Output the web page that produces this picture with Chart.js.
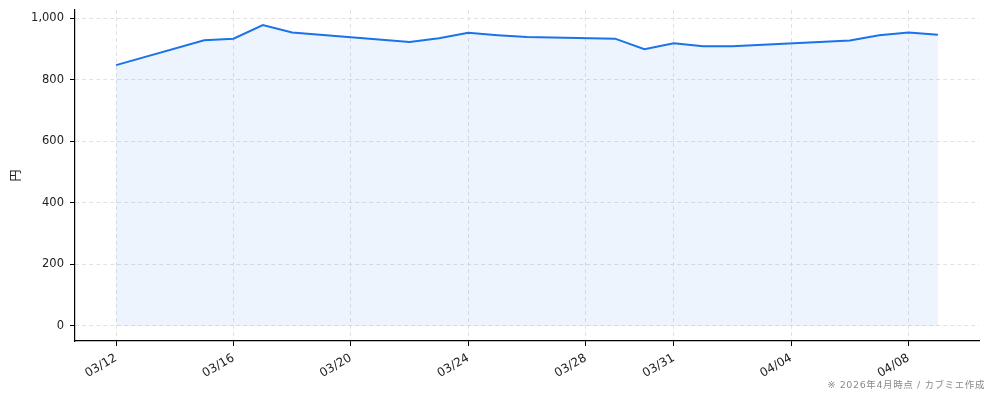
<!DOCTYPE html>
<html lang="ja">
<head>
<meta charset="utf-8">
<script src="https://cdn.jsdelivr.net/npm/chart.js@4"></script>
<style>
  html, body { margin: 0; padding: 0; background: #fff; }
  #wrap { position: relative; width: 994px; height: 401px; }
  #note {
    position: absolute; right: 9px; top: 377px;
    font-family: 'DejaVu Sans', 'Noto Sans CJK JP', sans-serif; font-size: 9.5px;
    color: #8a8a8a; letter-spacing: 0.6px; white-space: nowrap;
  }
</style>
</head>
<body>
<div id="wrap">
  <canvas id="chart"></canvas>
  <div id="note">※ 2026年4月時点 / カブミエ作成</div>
</div>
<script>
// 株価データ（日付 MM/DD と終値）
const dates = ['03/12', '03/15', '03/16', '03/17', '03/18', '03/22', '03/23', '03/24', '03/25', '03/26',
               '03/29', '03/30', '03/31', '04/01', '04/02', '04/06', '04/07', '04/08', '04/09'];
const prices = [847, 928, 933, 977, 953, 922, 934, 952, 944, 938,
                933, 899, 918, 908, 908, 927, 944, 953, 946];

// 目盛り
const xTickLabels = ['03/12', '03/16', '03/20', '03/24', '03/28', '03/31', '04/04', '04/08'];
const yTicks = [0, 200, 400, 600, 800, 1000];

const FONT = "'DejaVu Sans', 'Noto Sans CJK JP', sans-serif";
const LINE_COLOR = '#1a73e8';

// 03/12 を 0 とした日数に変換
function dayIndex(label) {
  const [m, d] = label.split('/').map(Number);
  return m === 3 ? d - 12 : (31 - 12) + d;
}

const points = dates.map((d, i) => ({ x: dayIndex(d), y: prices[i] }));
const xTickValues = xTickLabels.map(dayIndex);
const labelByDay = {};
xTickLabels.forEach(l => { labelByDay[dayIndex(l)] = l; });

const gridStyle = {
  color: '#e2e2e2',
  lineWidth: 1,
  tickColor: '#000',
  tickLength: 5,
  tickWidth: 1,
};

new Chart(document.getElementById('chart').getContext('2d'), {
  type: 'line',
  data: {
    datasets: [{
      data: points,
      borderColor: LINE_COLOR,
      borderWidth: 2,
      backgroundColor: 'rgba(26, 115, 232, 0.08)',
      fill: 'origin',
      pointRadius: 0,
      tension: 0,
    }],
  },
  options: {
    responsive: true,
    maintainAspectRatio: false,
    animation: false,
    layout: { padding: { top: 10, right: 15, left: 0, bottom: 0 } },
    plugins: {
      legend: { display: false },
      tooltip: { enabled: false },
    },
    scales: {
      x: {
        type: 'linear',
        min: -1.4,
        max: 29.4,
        grid: gridStyle,
        border: { color: '#000', width: 1.2, dash: [4, 3] },
        afterBuildTicks: scale => { scale.ticks = xTickValues.map(v => ({ value: v })); },
        afterFit: scale => { scale.height = 60; scale.paddingLeft = 0; scale.paddingRight = 0; },
        ticks: {
          autoSkip: false,
          minRotation: 30,
          maxRotation: 30,
          padding: 5,
          color: '#222',
          font: { family: FONT, size: 12 },
          callback: v => labelByDay[v] || '',
        },
      },
      y: {
        min: -48.9,
        max: 1026,
        grid: gridStyle,
        border: { color: '#000', width: 1.2, dash: [4, 3] },
        afterBuildTicks: scale => { scale.ticks = yTicks.map(v => ({ value: v })); },
        afterFit: scale => { scale.width = 75; scale.paddingTop = 0; scale.paddingBottom = 0; },
        ticks: {
          padding: 6,
          color: '#222',
          font: { family: FONT, size: 11.5 },
          callback: v => v.toLocaleString('en-US'),
        },
        title: {
          display: true,
          text: '円',
          color: '#222',
          padding: { top: 8, bottom: 0 },
          font: { family: "'Noto Sans CJK JP', sans-serif", size: 12 },
        },
      },
    },
  },
});
</script>
</body>
</html>
